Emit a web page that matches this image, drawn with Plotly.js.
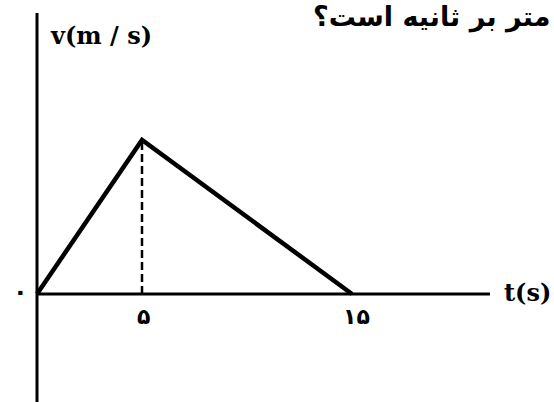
<!DOCTYPE html>
<html>
<head>
<meta charset="utf-8">
<script src="https://cdn.plot.ly/plotly-3.0.1.min.js"></script>
<style>html,body{margin:0;padding:0;background:#fff;}#chart{width:554px;height:402px;}</style>
</head>
<body>
<div id="chart"></div>
<script>
// data
var timeValues = [0, 5, 15];
var velocityValues = [0, 20, 0];
var tickVals = [5, 15];
var tickText = ['۵', '۱۵'];
var originText = '۰';
var xAxisTitle = 't(s)';
var yAxisTitle = 'v(m / s)';
var titleText = 'متر بر ثانیه است؟';

var peakT = timeValues[1], peakV = velocityValues[1];
var xMin = -1.762, xMax = 24.619;
var yMin = -14.03, yMax = 38.18;
var xAxisEnd = 21.57, yAxisTop = 36.49;

var annotations = [];
tickVals.forEach(function (v, i) {
  annotations.push({x: v, y: 0, xref: 'x', yref: 'y', text: '<b>' + tickText[i] + '</b>', showarrow: false,
    xanchor: 'center', yanchor: 'top', yshift: -8, xshift: i === 1 ? 4 : 1,
    font: {family: 'DejaVu Sans', size: 22, color: '#000'}});
});
annotations.push({x: 0, y: 0, xref: 'x', yref: 'y', text: '<b>' + originText + '</b>', showarrow: false,
  xanchor: 'center', yanchor: 'middle', xshift: -17, yshift: 2,
  font: {family: 'DejaVu Sans', size: 24, color: '#000'}});
annotations.push({x: xAxisEnd, y: 0, xref: 'x', yref: 'y', text: '<b>' + xAxisTitle + '</b>', showarrow: false,
  xanchor: 'left', yanchor: 'middle', xshift: 12, yshift: 1,
  font: {family: 'DejaVu Serif', size: 24, color: '#000'}});
annotations.push({x: 0, y: yAxisTop, xref: 'x', yref: 'y', text: '<b>' + yAxisTitle + '</b>', showarrow: false,
  xanchor: 'left', yanchor: 'middle', xshift: 11, yshift: -22,
  font: {family: 'DejaVu Serif', size: 24, color: '#000'}});
annotations.push({x: 0.999, y: 1, xref: 'paper', yref: 'paper', text: '<b>' + titleText + '</b>', showarrow: false,
  xanchor: 'right', yanchor: 'top', yshift: 1,
  font: {family: 'DejaVu Sans', size: 27, color: '#000'}});

var shapes = [
  {type: 'line', xref: 'x', yref: 'y', x0: 0, x1: 0, y0: yMin, y1: yAxisTop, line: {color: '#000', width: 3}},
  {type: 'line', xref: 'x', yref: 'y', x0: 0, x1: xAxisEnd, y0: 0, y1: 0, line: {color: '#000', width: 3}},
  {type: 'line', xref: 'x', yref: 'y', x0: peakT, x1: peakT, y0: 0, y1: peakV, line: {color: '#000', width: 2.5, dash: '8px,4px'}}
];

var trace = {x: timeValues, y: velocityValues, mode: 'lines', type: 'scatter',
  line: {color: '#000', width: 4.5}, hoverinfo: 'skip', cliponaxis: false};

var layout = {
  width: 554, height: 402,
  margin: {l: 0, r: 0, t: 0, b: 0},
  paper_bgcolor: '#fff', plot_bgcolor: '#fff',
  showlegend: false,
  xaxis: {range: [xMin, xMax], visible: false, fixedrange: true},
  yaxis: {range: [yMin, yMax], visible: false, fixedrange: true},
  shapes: shapes,
  annotations: annotations
};
Plotly.newPlot('chart', [trace], layout, {staticPlot: true});
</script>
</body>
</html>
